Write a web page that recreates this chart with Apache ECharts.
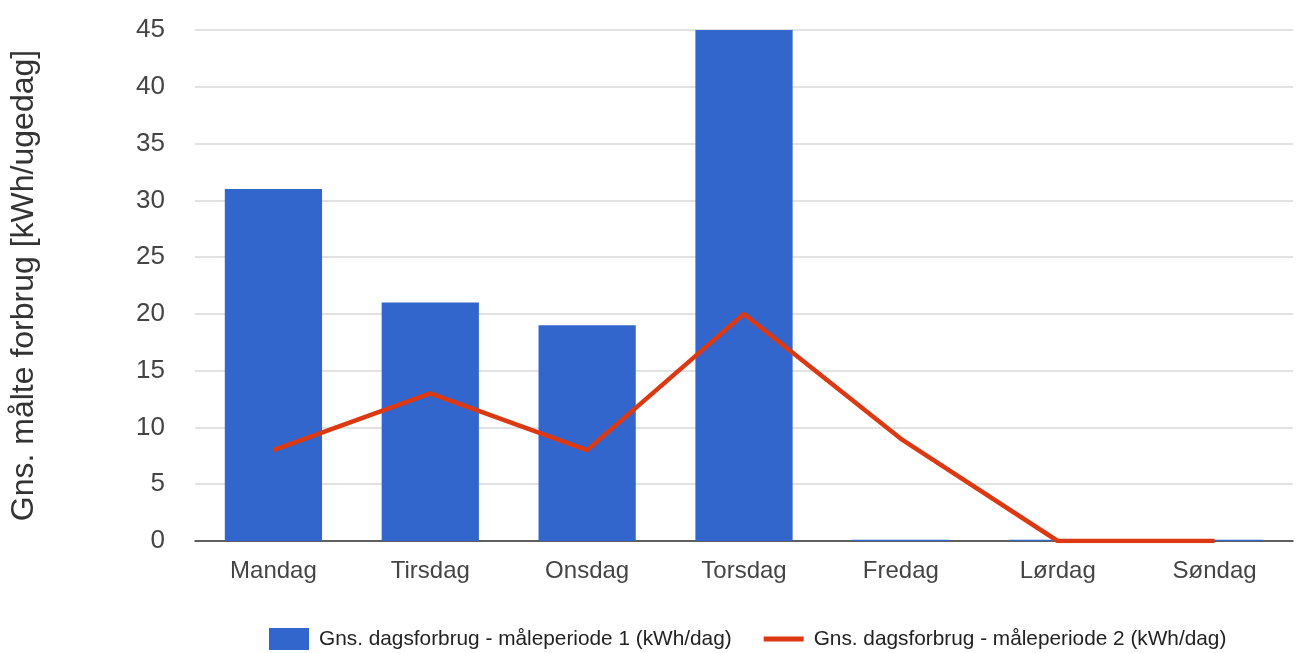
<!DOCTYPE html>
<html>
<head>
<meta charset="utf-8">
<script src="https://cdn.jsdelivr.net/npm/echarts@6/dist/echarts.min.js"></script>
<style>
  html, body { margin: 0; padding: 0; background: #fff; }
  #chart { width: 1301px; height: 653px; }
</style>
</head>
<body>
<div id="chart"></div>
<script>
// Weekdays on the category axis
const days = ['Mandag', 'Tirsdag', 'Onsdag', 'Torsdag', 'Fredag', 'Lørdag', 'Søndag'];
// Average daily use per weekday, measuring period 1 (bars)
const period1 = [31, 21, 19, 45, 0.1, 0.1, 0.1];
// Average daily use per weekday, measuring period 2 (line)
const period2 = [8, 13, 8, 20, 9, 0, 0];
const seriesNames = [
  'Gns. dagsforbrug - måleperiode 1 (kWh/dag)',
  'Gns. dagsforbrug - måleperiode 2 (kWh/dag)'
];
const yAxisTitle = 'Gns. målte forbrug [kWh/ugedag]';

const font = 'Arial, "Liberation Sans", sans-serif';
const chart = echarts.init(document.getElementById('chart'), null, { renderer: 'canvas' });

chart.setOption({
  animation: false,
  backgroundColor: '#ffffff',
  textStyle: { fontFamily: font },
  grid: { left: 195, right: 8, top: 30, bottom: 112, containLabel: false },
  legend: {
    top: 628,
    left: 269,
    padding: 0,
    itemGap: 32,
    itemWidth: 40,
    itemHeight: 22,
    textStyle: { fontFamily: font, fontSize: 20.8, color: '#222', padding: [0, 0, 0, 5] },
    data: [
      { name: seriesNames[0], icon: 'rect' },
      { name: seriesNames[1], icon: 'path://M0,0H40V5H0Z' }
    ]
  },
  xAxis: {
    type: 'category',
    data: days,
    axisTick: { show: false },
    axisLine: { lineStyle: { color: '#333', width: 1.5 } },
    axisLabel: { fontFamily: font, fontSize: 24, color: '#444', margin: 18 }
  },
  yAxis: {
    type: 'value',
    min: 0,
    max: 45,
    interval: 5,
    name: yAxisTitle,
    nameLocation: 'middle',
    nameGap: 155,
    nameTextStyle: { fontFamily: font, fontSize: 32, color: '#333' },
    axisLine: { show: false },
    axisTick: { show: false },
    axisLabel: { fontFamily: font, fontSize: 26, color: '#444', margin: 30 },
    splitLine: { lineStyle: { color: '#d9d9d9', width: 1.5 } }
  },
  series: [
    {
      name: seriesNames[0],
      type: 'bar',
      data: period1,
      barCategoryGap: '38%',
      itemStyle: { color: '#3366cc' }
    },
    {
      name: seriesNames[1],
      type: 'line',
      data: period2,
      symbol: 'none',
      lineStyle: { color: '#dc3912', width: 4.5 },
      itemStyle: { color: '#dc3912' },
      z: 3
    }
  ]
});
</script>
</body>
</html>
